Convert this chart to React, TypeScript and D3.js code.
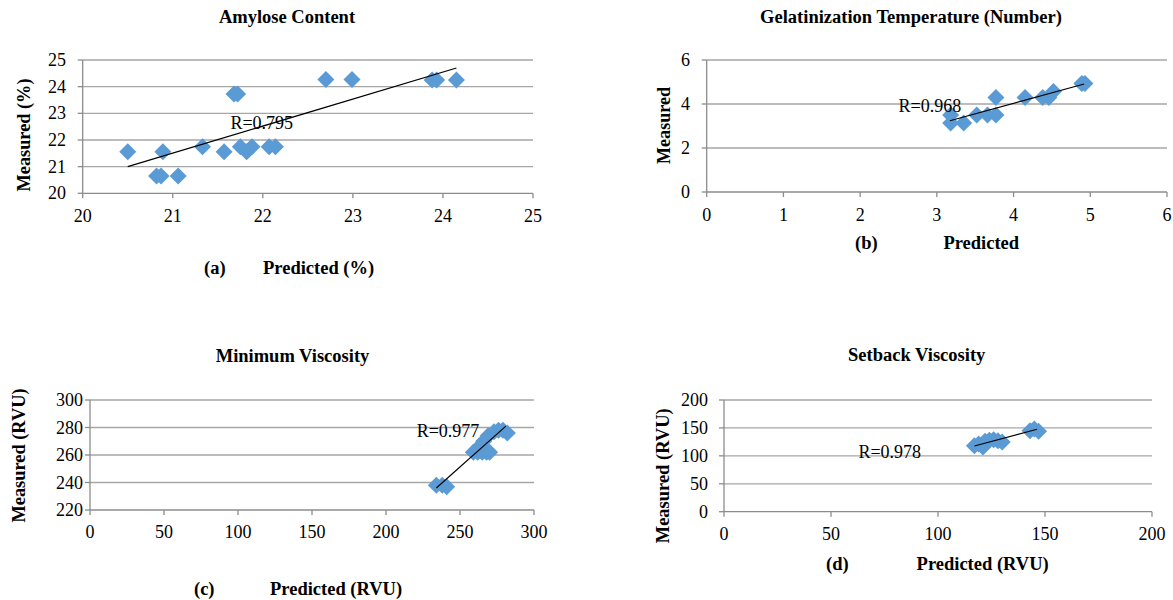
import React from "react";
import * as d3 from "d3";

// (a) Amylose Content
const amylosePredicted = [20.5, 20.89, 20.82, 20.87, 21.06, 21.33, 21.57, 21.68, 21.72, 21.75, 21.82, 21.88, 22.07, 22.14, 22.7, 22.99, 23.88, 23.93, 24.15];
const amyloseMeasured = [21.56, 21.56, 20.65, 20.65, 20.65, 21.75, 21.56, 23.72, 23.72, 21.75, 21.56, 21.75, 21.75, 21.75, 24.27, 24.27, 24.25, 24.25, 24.25];
const amyloseTrend = [[20.5, 21.0], [24.15, 24.7]];
const amyloseXTicks = [20, 21, 22, 23, 24, 25];
const amyloseYTicks = [20, 21, 22, 23, 24, 25];

// (b) Gelatinization Temperature
const gelPredicted = [3.18, 3.18, 3.35, 3.52, 3.66, 3.77, 3.77, 4.15, 4.38, 4.46, 4.52, 4.89, 4.93];
const gelMeasured = [3.14, 3.5, 3.14, 3.5, 3.5, 4.29, 3.5, 4.29, 4.29, 4.29, 4.57, 4.93, 4.93];
const gelTrend = [[3.17, 3.24], [4.92, 4.91]];
const gelXTicks = [0, 1, 2, 3, 4, 5, 6];
const gelYTicks = [0, 2, 4, 6];

// (c) Minimum Viscosity
const minPredicted = [234, 238, 241, 259, 262, 265, 268, 270, 263, 266, 269, 273, 276, 279, 282];
const minMeasured = [238, 238, 237, 262, 262, 262, 262, 262, 266, 270, 274, 277, 278, 278, 276];
const minTrend = [[234, 236], [281, 281]];
const minXTicks = [0, 50, 100, 150, 200, 250, 300];
const minYTicks = [220, 240, 260, 280, 300];

// (d) Setback Viscosity
const setPredicted = [117, 119, 121, 122, 124, 126, 128, 130, 143, 145, 147];
const setMeasured = [118, 121, 116, 126, 128, 129, 127, 125, 145, 148, 144];
const setTrend = [[117, 117.7], [146.3, 147.6]];
const setXTicks = [0, 50, 100, 150, 200];
const setYTicks = [0, 50, 100, 150, 200];

const FONT = '"Liberation Serif", "Times New Roman", serif';
const BLUE = "#5b9bd5";
const GRID = "#a6a6a6";
const AXIS = "#8c8c8c";

const panels = [
  {
    title: "Amylose Content", titleX: 287, titleY: 23,
    r: "R=0.795", rAt: [21.64, 22.43],
    yLabel: "Measured (%)", yLabelX: 24, yLabelY: 135, yLabelLen: 113,
    tag: "(a)", tagX: 204, xLabel: "Predicted (%)", xLabelX: 263, xLabelY: 274,
    left: 82.7, right: 533, top: 60, bottom: 193.3,
    xTickY: 222, yTickX: 66,
    xs: amylosePredicted, ys: amyloseMeasured, trend: amyloseTrend,
    xTicks: amyloseXTicks, yTicks: amyloseYTicks,
  },
  {
    title: "Gelatinization Temperature (Number)", titleX: 911, titleY: 23,
    r: "R=0.968", rAt: [2.5, 3.65],
    yLabel: "Measured", yLabelX: 664, yLabelY: 125.5, yLabelLen: 77,
    tag: "(b)", tagX: 855, xLabel: "Predicted", xLabelX: 943.4, xLabelY: 248.5,
    left: 706.7, right: 1167, top: 60, bottom: 192,
    xTickY: 221, yTickX: 690,
    xs: gelPredicted, ys: gelMeasured, trend: gelTrend,
    xTicks: gelXTicks, yTicks: gelYTicks,
  },
  {
    title: "Minimum Viscosity", titleX: 292.5, titleY: 361.7,
    r: "R=0.977", rAt: [220.7, 273.3],
    yLabel: "Measured (RVU)", yLabelX: 19, yLabelY: 455.5, yLabelLen: 134,
    tag: "(c)", tagX: 194, xLabel: "Predicted (RVU)", xLabelX: 270, xLabelY: 595,
    left: 90, right: 534, top: 400, bottom: 510,
    xTickY: 538, yTickX: 83,
    xs: minPredicted, ys: minMeasured, trend: minTrend,
    xTicks: minXTicks, yTicks: minYTicks,
  },
  {
    title: "Setback Viscosity", titleX: 916.7, titleY: 360.7,
    r: "R=0.978", rAt: [62.8, 96.8],
    yLabel: "Measured (RVU)", yLabelX: 663, yLabelY: 475.8, yLabelLen: 135,
    tag: "(d)", tagX: 826, xLabel: "Predicted (RVU)", xLabelX: 916.6, xLabelY: 569.5,
    left: 724, right: 1152, top: 400, bottom: 511.7,
    xTickY: 540, yTickX: 708,
    xs: setPredicted, ys: setMeasured, trend: setTrend,
    xTicks: setXTicks, yTicks: setYTicks,
  },
];

const diamond = (r: number) => `M0,${-r}L${r},0L0,${r}L${-r},0Z`;

const Panel = ({ p }: { p: any }) => {
  const xTicks: number[] = p.xTicks;
  const yTicks: number[] = p.yTicks;
  const x = d3.scaleLinear().domain([xTicks[0], xTicks[xTicks.length - 1]]).range([p.left, p.right]);
  const y = d3.scaleLinear().domain([yTicks[0], yTicks[yTicks.length - 1]]).range([p.bottom, p.top]);
  const trendPath = d3.line<number[]>().x((d) => x(d[0])).y((d) => y(d[1]))(p.trend) || "";

  return (
    <g fontFamily={FONT}>
      {/* gridlines */}
      {yTicks.slice(1).map((t) => (
        <line key={"g" + t} x1={p.left} x2={p.right} y1={y(t)} y2={y(t)} stroke={GRID} strokeWidth={1.3} />
      ))}

      {/* axes */}
      <line x1={p.left} x2={p.left} y1={p.top} y2={p.bottom} stroke={AXIS} strokeWidth={1.3} />
      <line x1={p.left} x2={p.right} y1={p.bottom} y2={p.bottom} stroke={AXIS} strokeWidth={1.3} />
      {yTicks.map((t) => (
        <g key={"y" + t}>
          <line x1={p.left - 5} x2={p.left} y1={y(t)} y2={y(t)} stroke={AXIS} strokeWidth={1.3} />
          <text x={p.yTickX} y={y(t)} dy="0.34em" textAnchor="end" fontSize={18} fill="#000">
            {t}
          </text>
        </g>
      ))}
      {xTicks.map((t) => (
        <g key={"x" + t}>
          <line x1={x(t)} x2={x(t)} y1={p.bottom} y2={p.bottom + 5} stroke={AXIS} strokeWidth={1.3} />
          <text x={x(t)} y={p.xTickY} textAnchor="middle" fontSize={18} fill="#000">
            {t}
          </text>
        </g>
      ))}

      {/* points */}
      {p.xs.map((v: number, i: number) => (
        <path key={"p" + i} d={diamond(8.5)} transform={`translate(${x(v)},${y(p.ys[i])})`} fill={BLUE} />
      ))}

      {/* trendline */}
      <path d={trendPath} stroke="#000" strokeWidth={1.2} fill="none" />

      <text x={x(p.rAt[0])} y={y(p.rAt[1])} fontSize={18} fill="#000">
        {p.r}
      </text>

      {/* titles */}
      <text x={p.titleX} y={p.titleY} textAnchor="middle" fontSize={18.5} fontWeight="bold" fill="#000">
        {p.title}
      </text>
      <text
        transform={`translate(${p.yLabelX},${p.yLabelY}) rotate(-90)`}
        textAnchor="middle"
        dy="0.34em"
        fontSize={18.5}
        fontWeight="bold"
        textLength={p.yLabelLen}
        lengthAdjust="spacingAndGlyphs"
        fill="#000"
      >
        {p.yLabel}
      </text>
      <text x={p.tagX} y={p.xLabelY} fontSize={18.5} fontWeight="bold" fill="#000">
        {p.tag}
      </text>
      <text x={p.xLabelX} y={p.xLabelY} fontSize={18.5} fontWeight="bold" fill="#000">
        {p.xLabel}
      </text>
    </g>
  );
};

export default function App() {
  return (
    <div style={{ position: "absolute", left: 0, top: 0, width: 1173, height: 600, background: "#fff" }}>
      <svg width={1173} height={600} style={{ display: "block" }}>
        <rect width={1173} height={600} fill="#fff" />
        {panels.map((p) => (
          <Panel key={p.tag} p={p} />
        ))}
      </svg>
    </div>
  );
}
